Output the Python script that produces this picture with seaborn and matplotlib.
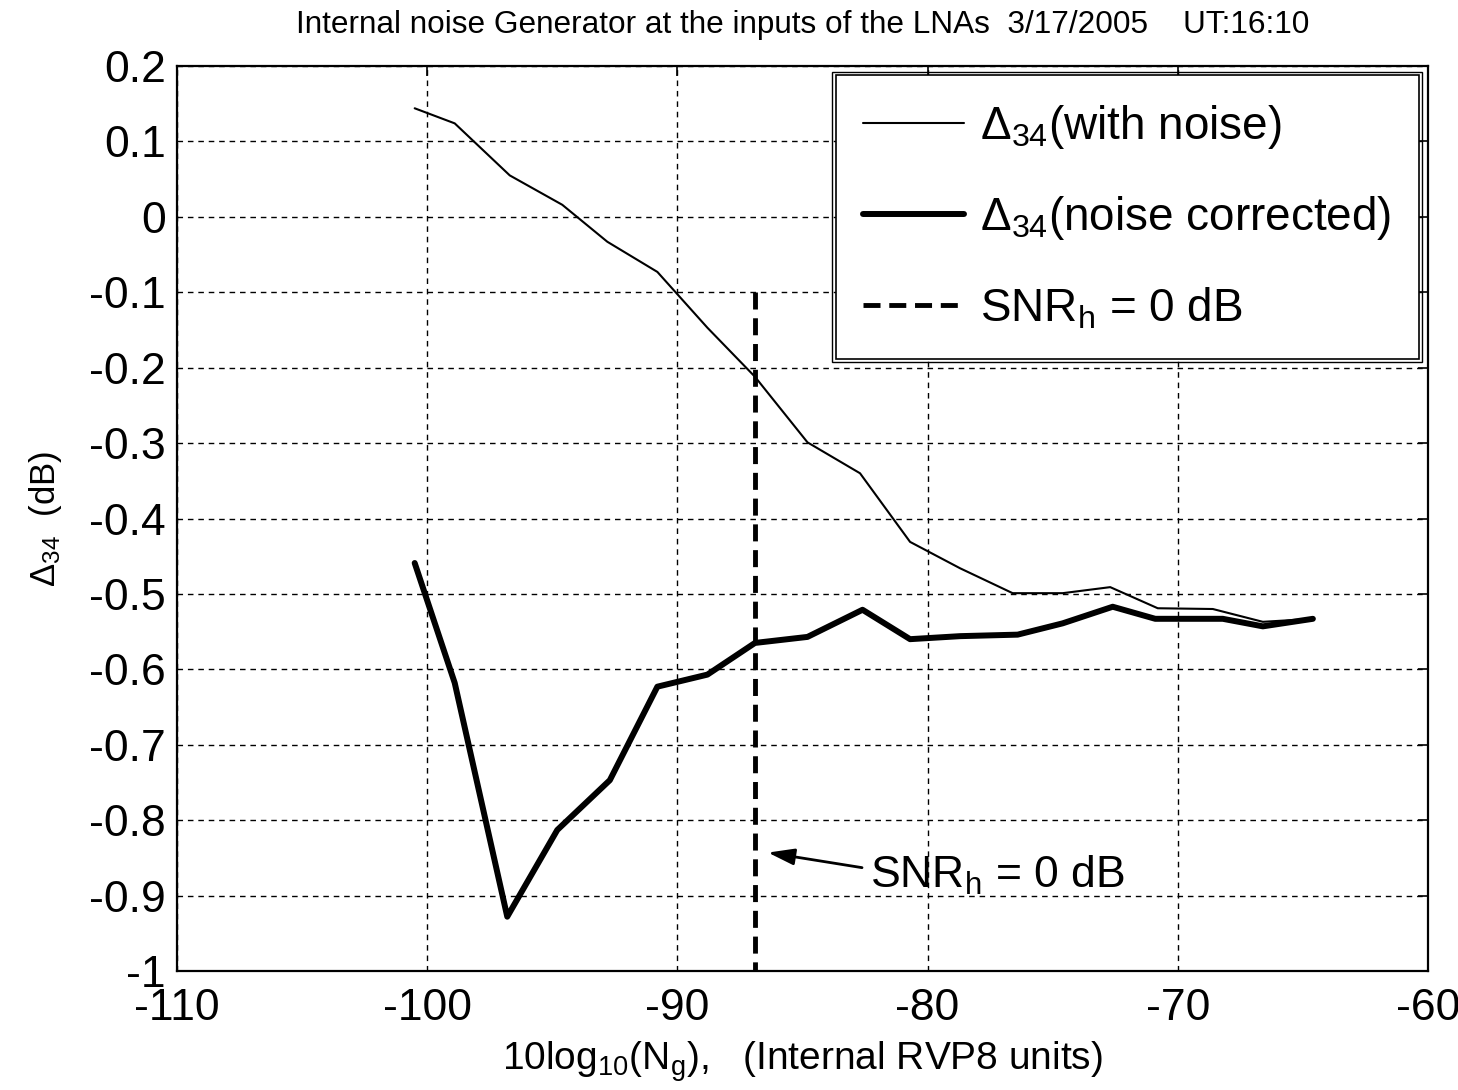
import matplotlib
matplotlib.use('Agg')
import matplotlib.pyplot as plt
import seaborn as sns
import pandas as pd
from matplotlib import font_manager
from matplotlib.patches import Rectangle

# ---------------- data ----------------
x_noise = [-100.5, -98.9, -96.7, -94.6, -92.8, -90.8, -88.8, -86.9, -84.8, -82.7,
           -80.7, -78.7, -76.6, -74.6, -72.7, -70.8, -68.6, -66.6, -64.6]
y_noise = [0.144, 0.124, 0.055, 0.016, -0.033, -0.073, -0.147, -0.212, -0.299, -0.340,
           -0.431, -0.466, -0.499, -0.499, -0.491, -0.519, -0.520, -0.537, -0.533]
x_corr = [-100.5, -98.9, -96.8, -94.8, -92.7, -90.8, -88.8, -86.9, -84.8, -82.6,
          -80.7, -78.7, -76.4, -74.6, -72.6, -70.9, -68.2, -66.6, -64.6]
y_corr = [-0.459, -0.618, -0.928, -0.813, -0.747, -0.623, -0.607, -0.565, -0.557, -0.521,
          -0.560, -0.556, -0.554, -0.539, -0.517, -0.533, -0.533, -0.543, -0.533]
snr_x = [-86.9, -86.9]
snr_y = [-0.1, -1.0]

x_ticks = [-110, -100, -90, -80, -70, -60]
x_ticklabels = ['-110', '-100', '-90', '-80', '-70', '-60']
y_ticks = [-1.0, -0.9, -0.8, -0.7, -0.6, -0.5, -0.4, -0.3, -0.2, -0.1, 0.0, 0.1, 0.2]
y_ticklabels = ['-1', '-0.9', '-0.8', '-0.7', '-0.6', '-0.5', '-0.4', '-0.3', '-0.2',
                '-0.1', '0', '0.1', '0.2']

title_text = 'Internal noise Generator at the inputs of the LNAs  3/17/2005    UT:16:10'
xlabel_text = r'10log$_{\mathrm{10}}$(N$_{\mathrm{g}}$),   (Internal RVP8 units)'
ylabel_text = r'$\Delta_{\mathrm{34}}$  (dB)'
label_noise = r'$\Delta_{\mathrm{34}}$(with noise)'
label_corr = r'$\Delta_{\mathrm{34}}$(noise corrected)'
label_snr = r'SNR$_{\mathrm{h}}$ = 0 dB'
annot_text_pos = (-82.3, -0.890)
annot_tail = (-82.62, -0.863)
annot_tip = (-86.38, -0.843)

# ---------------- style ----------------
sns.set_style('white')
available = {f.name for f in font_manager.fontManager.ttflist}
base_font = 'Liberation Sans' if 'Liberation Sans' in available else 'DejaVu Sans'
plt.rcParams['font.family'] = [base_font, 'DejaVu Sans']
plt.rcParams['mathtext.fontset'] = 'custom'
plt.rcParams['mathtext.rm'] = base_font
plt.rcParams['mathtext.it'] = base_font + ':italic'
plt.rcParams['mathtext.bf'] = base_font + ':bold'
plt.rcParams['axes.unicode_minus'] = False
plt.rcParams['text.color'] = 'black'
plt.rcParams['axes.labelcolor'] = 'black'
plt.rcParams['xtick.color'] = 'black'
plt.rcParams['ytick.color'] = 'black'

fig = plt.figure(figsize=(14.58, 10.90), dpi=100)
ax = fig.add_axes([0.1214, 0.1092, 0.8580, 0.8302])

df_noise = pd.DataFrame({'x': x_noise, 'y': y_noise})
df_corr = pd.DataFrame({'x': x_corr, 'y': y_corr})

sns.lineplot(data=df_noise, x='x', y='y', ax=ax, color='black', linewidth=1.5,
             sort=False, estimator=None, label=label_noise)
sns.lineplot(data=df_corr, x='x', y='y', ax=ax, color='black', linewidth=4.3,
             sort=False, estimator=None, label=label_corr)
ax.plot(snr_x, snr_y, color='black', linewidth=3.5, linestyle=(0, (3.5, 1.8)),
        label=label_snr)

ax.set_xlim(-110, -60)
ax.set_ylim(-1.0, 0.2)
ax.set_xticks(x_ticks)
ax.set_xticklabels(x_ticklabels)
ax.set_yticks(y_ticks)
ax.set_yticklabels(y_ticklabels)
ax.tick_params(axis='both', direction='in', length=7, width=1.2, labelsize=32,
               top=True, right=True, colors='black')
ax.tick_params(axis='x', pad=12)
ax.tick_params(axis='y', pad=8)

ax.grid(True, color='black', linestyle=(0, (4, 3.5)), linewidth=1.0)
for sp in ax.spines.values():
    sp.set_visible(True)
    sp.set_color('black')
    sp.set_linewidth(1.6)

narrow = 'Liberation Sans Narrow' in available
if narrow:
    ax.set_title(title_text, fontsize=25, family='Liberation Sans Narrow', pad=24,
                 color='black')
else:
    ax.set_title(title_text, fontsize=22.7, pad=24, color='black')
ax.set_xlabel(xlabel_text, fontsize=28, labelpad=8, color='black')
ax.set_ylabel(ylabel_text, fontsize=25, labelpad=18, color='black')

ax.text(annot_text_pos[0], annot_text_pos[1], label_snr, fontsize=32,
        ha='left', va='baseline', color='black')
ax.annotate('', xy=annot_tip, xytext=annot_tail,
            arrowprops=dict(arrowstyle='-|>,head_length=0.8,head_width=0.25',
                            color='black', lw=2, shrinkA=0, shrinkB=0,
                            mutation_scale=20))

leg = ax.legend(loc='upper right', fontsize=33, frameon=True, fancybox=False,
                edgecolor='black', framealpha=1, handlelength=2.2,
                handletextpad=0.35, labelspacing=0.95, borderpad=0.6,
                borderaxespad=0.2)
leg.get_frame().set_linewidth(1.2)
for t in leg.get_texts():
    t.set_color('black')

fig.canvas.draw()
bb = leg.get_window_extent().transformed(fig.transFigure.inverted())
px = 3.5 / fig.bbox.width
py = 3.5 / fig.bbox.height
fig.patches.append(Rectangle((bb.x0 - px, bb.y0 - py), bb.width + 2 * px, bb.height + 2 * py,
                             transform=fig.transFigure, fill=False, edgecolor='black',
                             linewidth=1.0, zorder=10))

fig.savefig('out.png', dpi=100)
